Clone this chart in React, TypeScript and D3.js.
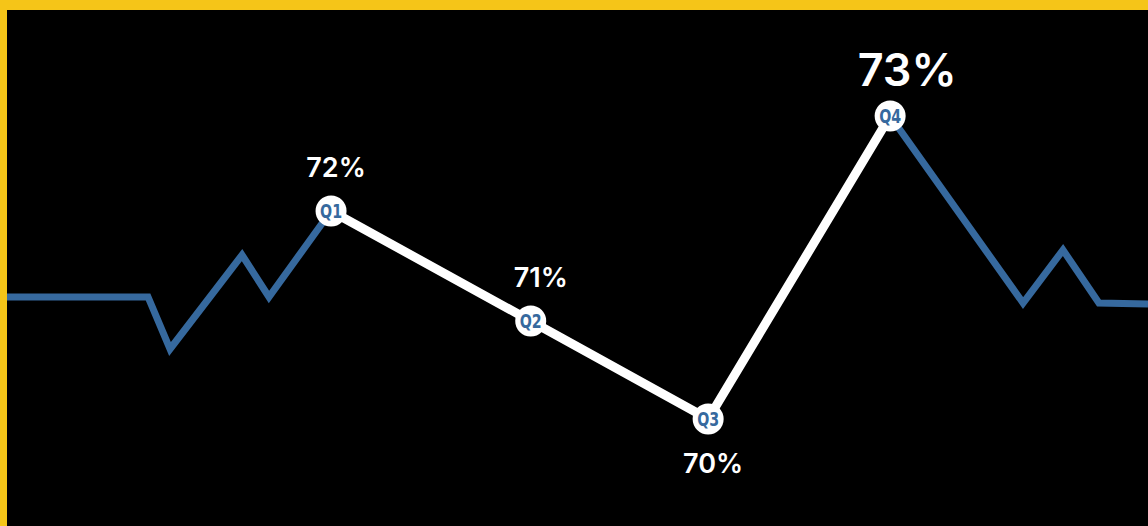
import React from "react";
import * as d3 from "d3";

const quarters = ["Q1", "Q2", "Q3", "Q4"];
const quarterX = [28.4, 45.9, 61.45, 77.4];
const quarterValues = [72.05, 70.95, 69.97, 73.0];
const quarterLabels = ["72%", "71%", "70%", "73%"];

const leadX = [0, 12.36, 14.29, 20.6, 22.96, 28.4];
const leadValues = [71.19, 71.19, 70.67, 71.61, 71.19, 72.05];

const trailX = [77.4, 89.05, 92.55, 95.7, 100];
const trailValues = [73.0, 71.13, 71.66, 71.13, 71.12];

const W = 1148;
const H = 526;
const BLUE = "#36699e";
const YELLOW = "#f5c518";

export default function App() {
  const x = d3.scaleLinear().domain([0, 100]).range([7, 1148]);
  const y = d3.scaleLinear().domain([70, 73]).range([416, 116]);
  const line = d3
    .line<[number, number]>()
    .x((d) => x(d[0]))
    .y((d) => y(d[1]));

  const lead = leadX.map((v, i) => [v, leadValues[i]] as [number, number]);
  const trail = trailX.map((v, i) => [v, trailValues[i]] as [number, number]);
  const main = quarterX.map((v, i) => [v, quarterValues[i]] as [number, number]);

  const labelStyle = [
    { dx: 5, dy: -34, size: 27 },
    { dx: 10, dy: -34, size: 27 },
    { dx: 5, dy: 54, size: 27 },
    { dx: 17, dy: -30, size: 45 },
  ];

  return (
    <svg
      width={W}
      height={H}
      style={{ position: "absolute", left: 0, top: 0, display: "block" }}
    >
      <rect x={0} y={0} width={W} height={H} fill="#000" />
      <path d={line(lead) || ""} fill="none" stroke={BLUE} strokeWidth={7} strokeLinejoin="miter" />
      <path d={line(trail) || ""} fill="none" stroke={BLUE} strokeWidth={7} strokeLinejoin="miter" />
      <path d={line(main) || ""} fill="none" stroke="#fff" strokeWidth={9} strokeLinejoin="miter" />
      {main.map((d, i) => (
        <g key={quarters[i]}>
          <circle cx={x(d[0])} cy={y(d[1])} r={15.5} fill="#fff" />
          <text
            x={x(d[0])}
            y={y(d[1])}
            dy="0.36em"
            textAnchor="middle"
            fill={BLUE}
            fontFamily="'DejaVu Sans', sans-serif"
            fontWeight="bold"
            fontSize={19}
            textLength={22}
            lengthAdjust="spacingAndGlyphs"
          >
            {quarters[i]}
          </text>
          <text
            x={x(d[0]) + labelStyle[i].dx}
            y={y(d[1]) + labelStyle[i].dy}
            textAnchor="middle"
            fill="#fff"
            fontFamily="Inter, sans-serif"
            fontWeight={600}
            fontSize={labelStyle[i].size}
          >
            {quarterLabels[i]}
          </text>
        </g>
      ))}
      <rect x={0} y={0} width={W} height={10} fill={YELLOW} />
      <rect x={0} y={0} width={7} height={H} fill={YELLOW} />
    </svg>
  );
}
